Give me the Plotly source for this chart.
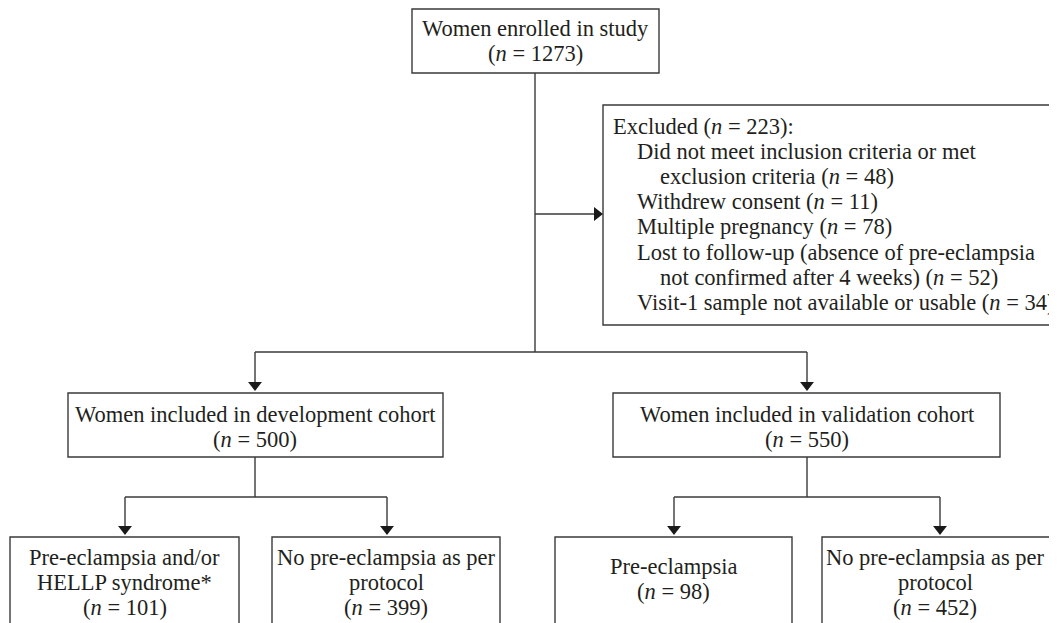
import plotly.graph_objects as go

# ---- data -------------------------------------------------------------
enrolled_n = 1273
excluded_n = 223
excluded_reasons = [
    ("Did not meet inclusion criteria or met", "exclusion criteria", 48),
    ("Withdrew consent", None, 11),
    ("Multiple pregnancy", None, 78),
    ("Lost to follow-up (absence of pre-eclampsia", "not confirmed after 4 weeks)", 52),
    ("Visit-1 sample not available or usable", None, 34),
]
cohort_names = ["Women included in development cohort",
                "Women included in validation cohort"]
cohort_n = [500, 550]
outcome_labels = [
    [["Pre-eclampsia and/or", "HELLP syndrome*"], ["No pre-eclampsia as per", "protocol"]],
    [["Pre-eclampsia"], ["No pre-eclampsia as per", "protocol"]],
]
outcome_n = [[101, 399], [98, 452]]

# ---- layout geometry (pixels) ----------------------------------------
W, H = 1057, 623
OFF = 8  # page body margin, so axis units line up with page pixels
FONT = dict(family="Liberation Serif, Times New Roman, serif", size=22.5, color="#231f20")
LINE = "#3a3a3a"
LW = 1.4
LH = 25  # line height of text


def nfmt(n):
    return "(<i>n</i> = %d)" % n


fig = go.Figure()
shapes = []
annotations = []


def box(x0, y0, x1, y1):
    shapes.append(dict(type="rect", xref="x", yref="y", x0=x0, y0=y0, x1=x1, y1=y1,
                       line=dict(color=LINE, width=LW), fillcolor="white", layer="below"))


def seg(xs, ys):
    fig.add_trace(go.Scatter(x=xs, y=ys, mode="lines", line=dict(color=LINE, width=LW),
                             hoverinfo="skip", showlegend=False))


def head(x, y, sym):
    fig.add_trace(go.Scatter(x=[x], y=[y], mode="markers",
                             marker=dict(symbol=sym, size=12, color="#1a1a1a"),
                             hoverinfo="skip", showlegend=False))


def text_lines(lines, cx, cy):
    top = cy - (len(lines) - 1) * LH / 2
    for i, t in enumerate(lines):
        annotations.append(dict(x=cx, y=top + i * LH, xref="x", yref="y", text=t,
                                showarrow=False, font=FONT, xanchor="center", yanchor="middle"))


# top box
box(412, 9, 659, 73)
text_lines(["Women enrolled in study", nfmt(enrolled_n)], 535.5, 41)

# trunk and excluded arrow
seg([535, 535], [73, 352])
seg([535, 596], [214, 214])
head(597, 214, "triangle-right")

# excluded box (runs off the right edge)
box(603, 105, 1075, 325)
ex_lines = [("Excluded (<i>n</i> = %d):" % excluded_n, 611)]
for first, second, n in excluded_reasons:
    if second is None:
        ex_lines.append(("%s %s" % (first, nfmt(n)), 635))
    else:
        ex_lines.append((first, 635))
        ex_lines.append(("%s %s" % (second, nfmt(n)), 658))
for i, (t, x) in enumerate(ex_lines):
    annotations.append(dict(x=x, y=126 + i * 25.2, xref="x", yref="y", text=t, showarrow=False,
                            font=FONT, xanchor="left", yanchor="middle"))

# split to cohorts
cohort_cx = [255, 807]
seg([cohort_cx[0], cohort_cx[1]], [352, 352])
cohort_boxes = [(68, 443), (613, 1000)]
outcome_boxes = [[(10, 239), (272, 500)], [(555, 792), (822, 1080)]]
outcome_cx = [[124.5, 386], [673.5, 935]]
split_x = [[125, 387], [674, 940]]

for k in range(2):
    cx = cohort_cx[k]
    seg([cx, cx], [352, 384])
    head(cx, 385, "triangle-down")
    x0, x1 = cohort_boxes[k]
    box(x0, 393, x1, 457)
    text_lines([cohort_names[k], nfmt(cohort_n[k])], cx, 427)

    seg([cx, cx], [457, 497])
    seg(split_x[k], [497, 497])
    for j in range(2):
        sx = split_x[k][j]
        seg([sx, sx], [497, 528])
        head(sx, 529, "triangle-down")
        bx0, bx1 = outcome_boxes[k][j]
        box(bx0, 537, bx1, 660)
        lines = outcome_labels[k][j] + [nfmt(outcome_n[k][j])]
        cy = 582 if len(lines) == 3 else 579
        text_lines(lines, outcome_cx[k][j], cy)

fig.update_layout(
    width=W, height=H,
    margin=dict(l=0, r=0, t=0, b=0),
    paper_bgcolor="white", plot_bgcolor="white",
    xaxis=dict(range=[OFF, W + OFF], visible=False, fixedrange=True),
    yaxis=dict(range=[H + OFF, OFF], visible=False, fixedrange=True),
    shapes=shapes, annotations=annotations,
    showlegend=False,
)
fig.write_html("out.html")
